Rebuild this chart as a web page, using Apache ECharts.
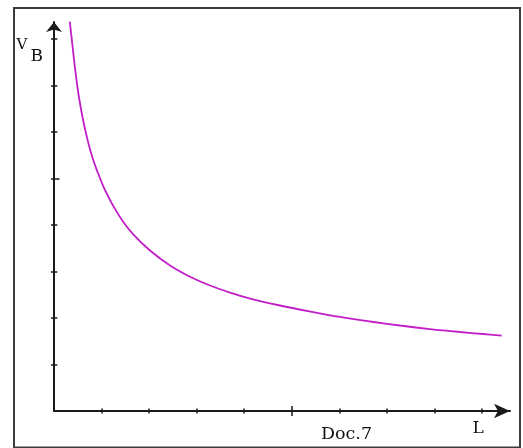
<!DOCTYPE html>
<html>
<head>
<meta charset="utf-8">
<script src="https://cdn.jsdelivr.net/npm/echarts@6/dist/echarts.min.js"></script>
<style>
html,body{margin:0;padding:0;background:#fff;}
#chart{width:523px;height:448px;}
</style>
</head>
<body>
<div id="chart"></div>
<script>
// Data (L on x, V_B on y, in tick units)
const L = [0.332, 0.379, 0.442, 0.505, 0.568, 0.631, 0.694, 0.757, 0.841, 0.925, 1.030, 1.136, 1.241, 1.451, 1.661, 2.019, 2.440, 2.860, 3.281, 3.701, 4.122, 4.753, 5.384, 6.015, 6.646, 7.277, 7.907, 8.538, 9.022, 9.415];
const VB = [8.372, 7.946, 7.376, 6.882, 6.495, 6.161, 5.882, 5.628, 5.348, 5.118, 4.849, 4.624, 4.419, 4.075, 3.806, 3.452, 3.129, 2.888, 2.699, 2.548, 2.419, 2.269, 2.140, 2.022, 1.925, 1.839, 1.763, 1.699, 1.656, 1.622];
const xMinorTicks = [1, 2, 3, 4, 6, 7, 8, 9];
const xMajorTicks = [5];
const yMinorTicks = [1, 2, 3, 4, 6, 7, 8];
const yMajorTicks = [5];
const xAxisName = 'L';
const yAxisName = 'V';
const yAxisSub = 'B';
const caption = 'Doc.7';

const X_MAX = 9.59, Y_MAX = 8.366;
const gridRect = { left: 54, right: 13, top: 22, bottom: 37 };
const axisColor = '#1a1a1a';

function mkX(ticks, inside, len, showLine, gi) {
  return {
    type: 'value', gridIndex: gi, min: 0, max: X_MAX, interval: 1,
    axisLine: showLine ? { show: true, lineStyle: { color: axisColor, width: 2 }, symbol: ['none', 'arrow'], symbolSize: [11, 16] } : { show: false },
    axisTick: { show: true, inside: inside, length: len, customValues: ticks, lineStyle: { color: axisColor, width: 1.5 } },
    axisLabel: { show: false }, splitLine: { show: false }
  };
}
function mkY(ticks, inside, len, showLine, gi) {
  return {
    type: 'value', gridIndex: gi, min: 0, max: Y_MAX, interval: 1,
    axisLine: showLine ? { show: true, lineStyle: { color: axisColor, width: 2 }, symbol: ['none', 'arrow'], symbolSize: [12, 10] } : { show: false },
    axisTick: { show: true, inside: inside, length: len, customValues: ticks, lineStyle: { color: axisColor, width: 1.5 } },
    axisLabel: { show: false }, splitLine: { show: false }
  };
}

const chart = echarts.init(document.getElementById('chart'), null, { renderer: 'canvas' });
chart.setOption({
  animation: false,
  backgroundColor: '#fff',
  grid: [0, 1, 2, 3].map(() => Object.assign({}, gridRect)),
  xAxis: [
    mkX(xMinorTicks, false, 2.5, true, 0),
    mkX(xMinorTicks, true, 2.5, false, 1),
    mkX(xMajorTicks, false, 5, false, 2),
    mkX(xMajorTicks, true, 5, false, 3)
  ],
  yAxis: [
    mkY(yMinorTicks, false, 3, true, 0),
    mkY(yMinorTicks, true, 3.3, false, 1),
    mkY(yMajorTicks, false, 3, false, 2),
    mkY(yMajorTicks, true, 5.5, false, 3)
  ],
  series: [{
    type: 'line', xAxisIndex: 0, yAxisIndex: 0,
    data: L.map((l, i) => [l, VB[i]]),
    showSymbol: false, smooth: 0.35, clip: false,
    lineStyle: { color: '#c21ec8', width: 1.8 }
  }],
  graphic: [
    { type: 'rect', shape: { x: 14, y: 8, width: 506, height: 439.5 }, style: { fill: 'none', stroke: '#3c3c3c', lineWidth: 2 }, z: 10 },
    { type: 'text', style: { text: yAxisName, x: 16.5, y: 45, fontSize: 15, fontFamily: 'DejaVu Serif', fill: '#111', verticalAlign: 'middle' } },
    { type: 'text', style: { text: yAxisSub, x: 30.5, y: 57, fontSize: 17, fontFamily: 'DejaVu Serif', fill: '#111', verticalAlign: 'middle' } },
    { type: 'text', style: { text: caption, x: 321, y: 434.5, fontSize: 17.5, fontFamily: 'DejaVu Serif', fill: '#111', verticalAlign: 'middle' } },
    { type: 'text', style: { text: xAxisName, x: 472.5, y: 428.5, fontSize: 17, fontFamily: 'DejaVu Serif', fill: '#111', verticalAlign: 'middle' } }
  ]
});
</script>
</body>
</html>
